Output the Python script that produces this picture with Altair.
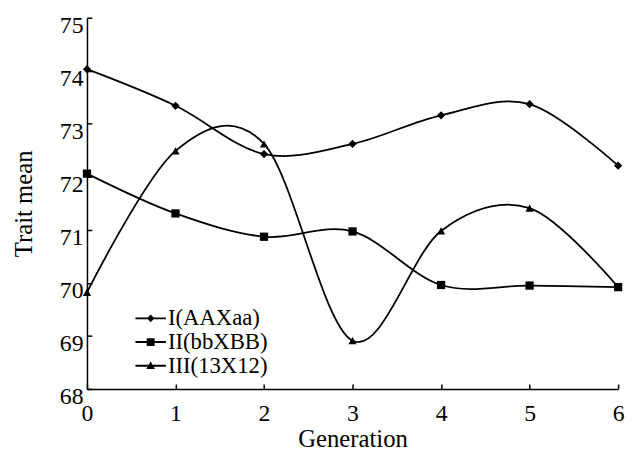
import altair as alt
import pandas as pd

# ---- data ----
generations = [0, 1, 2, 3, 4, 5, 6]
series_names = ["I(AAXaa)", "II(bbXBB)", "III(13X12)"]
series_I = [74.03, 73.34, 72.43, 72.62, 73.16, 73.37, 72.21]
series_II = [72.06, 71.31, 70.87, 70.97, 69.96, 69.95, 69.92]
series_III = [69.82, 72.49, 72.62, 68.91, 70.98, 71.41, 69.92]
x_ticks = [0, 1, 2, 3, 4, 5, 6]
y_ticks = [68, 69, 70, 71, 72, 73, 74, 75]

FONT = "Liberation Serif"
W, H = 538, 376

rows = []
for name, vals in zip(series_names, [series_I, series_II, series_III]):
    for g, v in zip(generations, vals):
        rows.append({"Generation": g, "Trait": v, "Series": name})
df = pd.DataFrame(rows)

xs = alt.Scale(domain=[0, 6], nice=False, zero=False)
ys = alt.Scale(domain=[68, 75], nice=False, zero=False)

x_main = alt.X(
    "Generation:Q", scale=xs,
    axis=alt.Axis(orient="bottom", values=x_ticks, ticks=False, grid=False,
                  domainColor="black", domainWidth=1.5, labelFont=FONT,
                  labelFontSize=24, labelColor="black", labelPadding=13,
                  labelFlush=False, labelOverlap=False, format="d",
                  title="Generation", titleFont=FONT, titleFontSize=25,
                  titleFontWeight="normal", titleColor="black", titlePadding=1))
y_main = alt.Y(
    "Trait:Q", scale=ys,
    axis=alt.Axis(orient="left", values=y_ticks, ticks=False, grid=False,
                  domainColor="black", domainWidth=1.5, labelFont=FONT,
                  labelFontSize=24, labelColor="black", labelPadding=4,
                  labelOffset=8, labelFlush=False, labelOverlap=False, format="d",
                  title="Trait mean", titleFont=FONT, titleFontSize=25,
                  titleFontWeight="normal", titleColor="black", titlePadding=23))

lines = alt.Chart(df).mark_line(interpolate="cardinal", color="black",
                                strokeWidth=1.8).encode(
    x=x_main, y=y_main, detail="Series:N")

points = alt.Chart(df).mark_point(filled=True, color="black", opacity=1,
                                  size=70).encode(
    x=x_main, y=y_main,
    shape=alt.Shape("Series:N",
                    scale=alt.Scale(domain=series_names,
                                    range=["diamond", "square", "triangle-up"]),
                    legend=None))

main = alt.layer(lines, points)

ticks_layer = alt.Chart(df).mark_point(opacity=0).encode(
    x=alt.X("Generation:Q", scale=xs,
            axis=alt.Axis(orient="top", offset=-H, values=x_ticks, labels=False,
                          domain=False, grid=False, ticks=True, tickSize=5,
                          tickColor="black", tickWidth=1.5, title=None)),
    y=alt.Y("Trait:Q", scale=ys,
            axis=alt.Axis(orient="right", offset=-W, values=y_ticks, labels=False,
                          domain=False, grid=False, ticks=True, tickSize=5,
                          tickColor="black", tickWidth=1.5, title=None)))

legend_paths = [
    "M-1.4,-0.09H-0.27L0,-0.36L0.27,-0.09H1.4V0.09H0.27L0,0.36L-0.27,0.09H-1.4Z",
    "M-1.4,-0.09H-0.36V-0.36H0.36V-0.09H1.4V0.09H0.36V0.36H-0.36V0.09H-1.4Z",
    "M-1.4,-0.09H-0.18L0,-0.4L0.18,-0.09H1.4V0.09H0.28L0.4,0.3H-0.4L-0.28,0.09H-1.4Z",
]

legend_layer = alt.Chart(df).mark_point(filled=True, color="black",
                                        opacity=0).encode(
    x=alt.X("Generation:Q", scale=xs, axis=None),
    y=alt.Y("Trait:Q", scale=ys, axis=None),
    shape=alt.Shape("Series:N",
                    scale=alt.Scale(domain=series_names, range=legend_paths),
                    legend=alt.Legend(orient="none", legendX=53, legendY=293,
                                      title=None, padding=0, symbolSize=484,
                                      symbolOpacity=1, symbolFillColor="black",
                                      symbolStrokeWidth=0, labelFont=FONT,
                                      labelFontSize=23, labelColor="black",
                                      labelOffset=6, rowPadding=-2)))

chart = alt.layer(main, ticks_layer, legend_layer).resolve_scale(
    shape="independent"
).resolve_axis(
    x="independent", y="independent"
).properties(
    width=W, height=H, autosize="none",
    padding={"left": 80, "top": 7, "right": 8, "bottom": 61},
    background="white",
).configure_view(stroke=None)

chart.save("out.html", embed_options={"renderer": "svg", "actions": False})
